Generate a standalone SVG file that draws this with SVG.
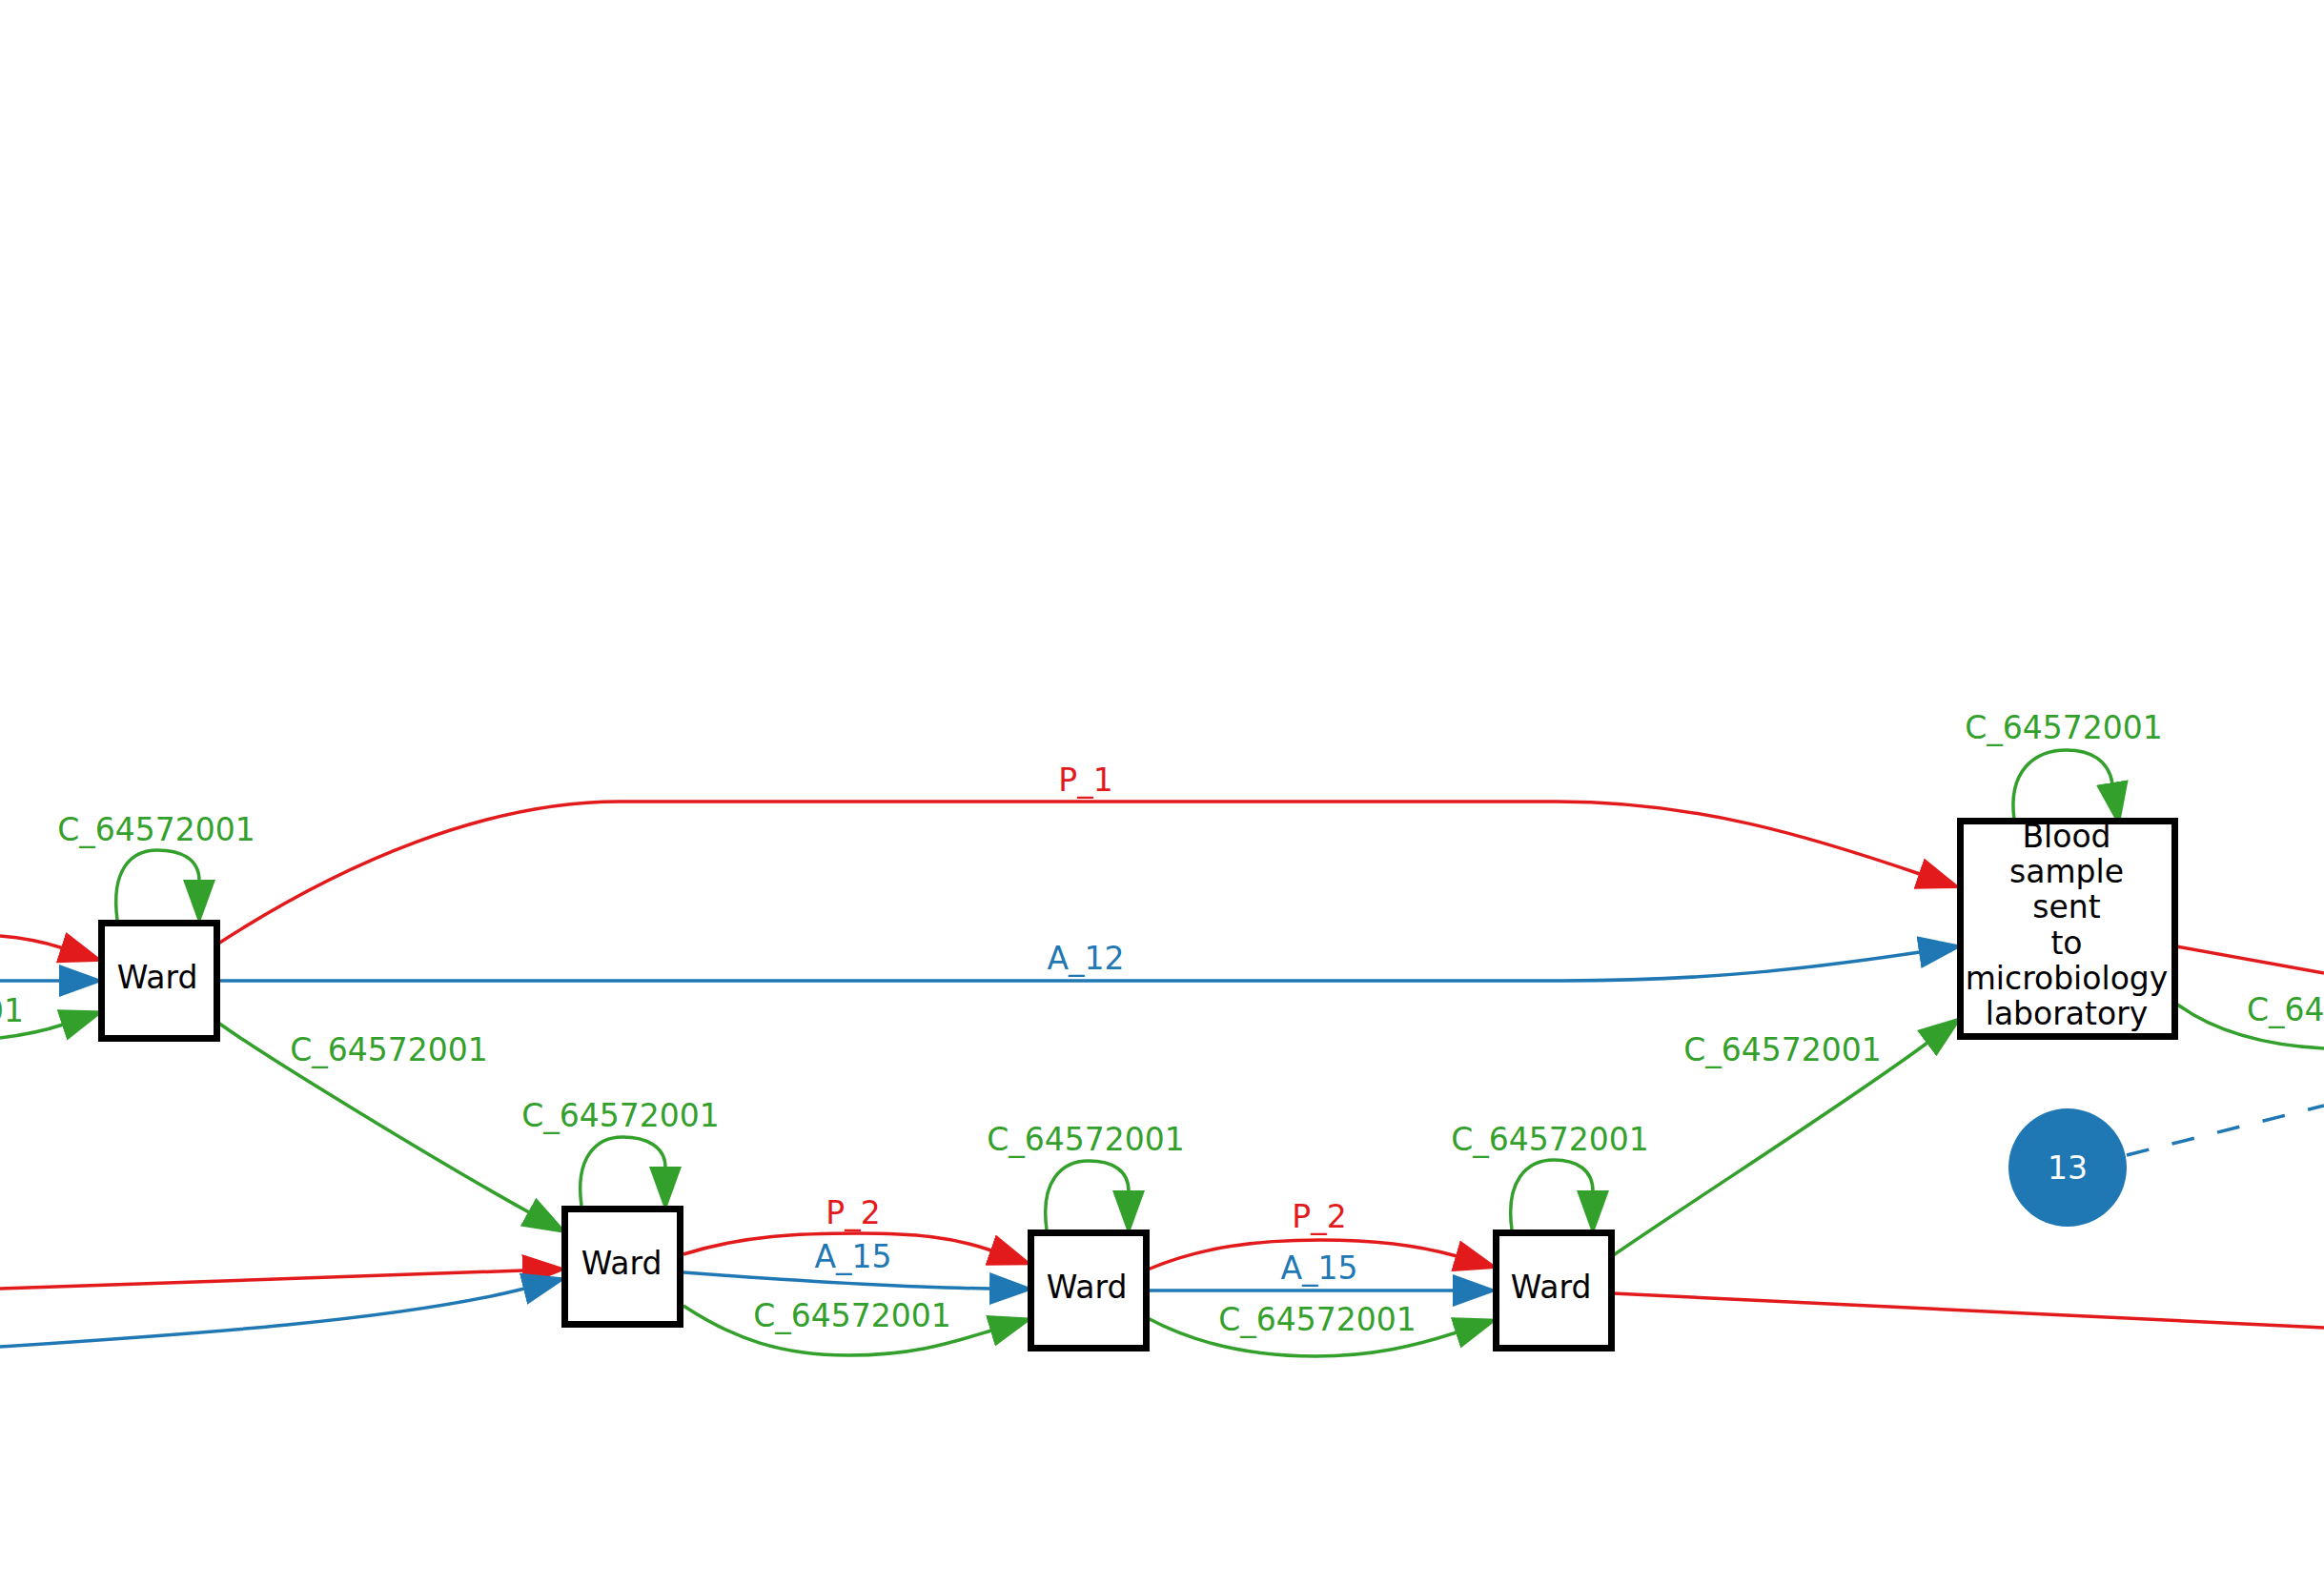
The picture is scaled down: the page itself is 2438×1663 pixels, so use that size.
<svg xmlns="http://www.w3.org/2000/svg" width="2438" height="1663" viewBox="0 0 2438 1663">
<style>
.node rect{fill:#ffffff;stroke:#000000;stroke-width:7}
.nt{font-family:"DejaVu Sans",sans-serif;font-size:33px;fill:#000000;text-anchor:middle}
.e{fill:none;stroke-width:3.5}
.r{stroke:#e31a1c}
.g{stroke:#33a02c}
.b{stroke:#1f78b4}
.lr{fill:#e31a1c}
.lg{fill:#33a02c}
.lb{fill:#1f78b4}
.lab{font-family:"DejaVu Sans",sans-serif;font-size:33px;text-anchor:middle}
</style>
<defs>
<marker id="ar" markerUnits="userSpaceOnUse" markerWidth="48" markerHeight="36" viewBox="0 0 48 36" refX="1" refY="18" orient="auto"><path d="M0,1 L47,18 L0,35 z" fill="#e31a1c"/></marker>
<marker id="ag" markerUnits="userSpaceOnUse" markerWidth="48" markerHeight="36" viewBox="0 0 48 36" refX="1" refY="18" orient="auto"><path d="M0,1 L47,18 L0,35 z" fill="#33a02c"/></marker>
<marker id="ab" markerUnits="userSpaceOnUse" markerWidth="48" markerHeight="36" viewBox="0 0 48 36" refX="1" refY="18" orient="auto"><path d="M0,1 L47,18 L0,35 z" fill="#1f78b4"/></marker>
</defs>
<rect x="0" y="0" width="2438" height="1663" fill="#ffffff"/>
<g id="edges">
<path class="e r" d="M0,982 C25,984 45,988 65,994.5" marker-end="url(#ar)"/>
<path class="e b" d="M0,1029 L63,1029" marker-end="url(#ab)"/>
<path class="e g" d="M0,1089 C25,1086 45,1082 66,1075" marker-end="url(#ag)"/>
<path class="e g" d="M123,965 C116,912 138,892 165,892 C188,892 209,900 209,924" marker-end="url(#ag)"/>
<path class="e r" d="M229,990 C360,905 510,841 650,841 L1633,841 C1780,841 1900,878 2014,917" marker-end="url(#ar)"/>
<path class="e b" d="M231,1029 L1640,1029 C1790,1029 1900,1016 2014,999" marker-end="url(#ab)"/>
<path class="e g" d="M229,1073 C280,1110 470,1225 555,1272" marker-end="url(#ag)"/>
<path class="e g" d="M610,1265 C603,1215 625,1193 653,1193 C678,1193 698,1203 698,1225" marker-end="url(#ag)"/>
<path class="e r" d="M0,1352 C200,1345 400,1338 549,1333" marker-end="url(#ar)"/>
<path class="e b" d="M0,1413 C200,1400 420,1385 550,1352" marker-end="url(#ab)"/>
<path class="e r" d="M717,1316 C780,1296 840,1294 900,1294 C960,1294 1000,1298 1040,1312" marker-end="url(#ar)"/>
<path class="e b" d="M717,1335 C850,1345 950,1351 1039,1352" marker-end="url(#ab)"/>
<path class="e g" d="M717,1370 C770,1405 820,1422 890,1422 C960,1422 1000,1408 1040,1396" marker-end="url(#ag)"/>
<path class="e g" d="M1098,1290 C1091,1240 1113,1218 1142,1218 C1167,1218 1184,1228 1184,1250" marker-end="url(#ag)"/>
<path class="e r" d="M1204,1332 C1260,1308 1320,1301 1385,1301 C1445,1301 1490,1307 1528,1318" marker-end="url(#ar)"/>
<path class="e b" d="M1206,1354 L1525,1354" marker-end="url(#ab)"/>
<path class="e g" d="M1204,1383 C1260,1413 1320,1423 1380,1423 C1440,1423 1485,1412 1528,1398" marker-end="url(#ag)"/>
<path class="e g" d="M1586,1290 C1579,1240 1601,1217 1630,1217 C1655,1217 1671,1228 1671,1250" marker-end="url(#ag)"/>
<path class="e g" d="M1691,1318 C1790,1250 1940,1155 2022,1094" marker-end="url(#ag)"/>
<path class="e r" d="M1692,1357 L2438,1393"/>
<path class="e g" d="M2113,860 C2106,808 2135,787 2168,787 C2192,787 2212,797 2216,822" marker-end="url(#ag)"/>
<path class="e r" d="M2283,993 L2438,1021"/>
<path class="e g" d="M2283,1053 Q2340,1095 2438,1100"/>
<path class="e b" d="M2231,1212 L2438,1160" stroke-dasharray="24,25"/>
</g>
<g id="edge-labels">
<text class="lab lg" x="164" y="882">C_64572001</text>
<text class="lab lr" x="1139" y="830">P_1</text>
<text class="lab lb" x="1139" y="1017">A_12</text>
<text class="lab lg" x="408" y="1113">C_64572001</text>
<text class="lab lg" x="25" y="1072" style="text-anchor:end">C_64572001</text>
<text class="lab lg" x="651" y="1182">C_64572001</text>
<text class="lab lr" x="895" y="1284">P_2</text>
<text class="lab lb" x="895" y="1330">A_15</text>
<text class="lab lg" x="894" y="1392">C_64572001</text>
<text class="lab lg" x="1139" y="1207">C_64572001</text>
<text class="lab lr" x="1384" y="1288">P_2</text>
<text class="lab lb" x="1384" y="1342">A_15</text>
<text class="lab lg" x="1382" y="1396">C_64572001</text>
<text class="lab lg" x="1626" y="1207">C_64572001</text>
<text class="lab lg" x="1870" y="1113">C_64572001</text>
<text class="lab lg" x="2165" y="775">C_64572001</text>
<text class="lab lg" x="2357" y="1071" style="text-anchor:start">C_64572001</text>
</g>
<g id="node-ward1" class="node"><rect x="106.5" y="968.5" width="121" height="121"/><text class="nt" x="165" y="1037">Ward</text></g>
<g id="node-ward2" class="node"><rect x="592.5" y="1268.5" width="121" height="121"/><text class="nt" x="652" y="1337">Ward</text></g>
<g id="node-ward3" class="node"><rect x="1081.5" y="1293.5" width="121" height="121"/><text class="nt" x="1140" y="1362">Ward</text></g>
<g id="node-ward4" class="node"><rect x="1569.5" y="1293.5" width="121" height="121"/><text class="nt" x="1627" y="1362">Ward</text></g>
<g id="node-blood" class="node"><rect x="2056.5" y="861.5" width="225" height="226"/>
<text class="nt" x="2168" y="889">Blood</text>
<text class="nt" x="2168" y="926">sample</text>
<text class="nt" x="2168" y="963">sent</text>
<text class="nt" x="2168" y="1001">to</text>
<text class="nt" x="2168" y="1038">microbiology</text>
<text class="nt" x="2168" y="1075">laboratory</text>
</g>
<g id="node-13"><circle cx="2169" cy="1225" r="62" fill="#1f78b4"/><text class="nt" x="2169" y="1237" style="fill:#ffffff">13</text></g>
</svg>
